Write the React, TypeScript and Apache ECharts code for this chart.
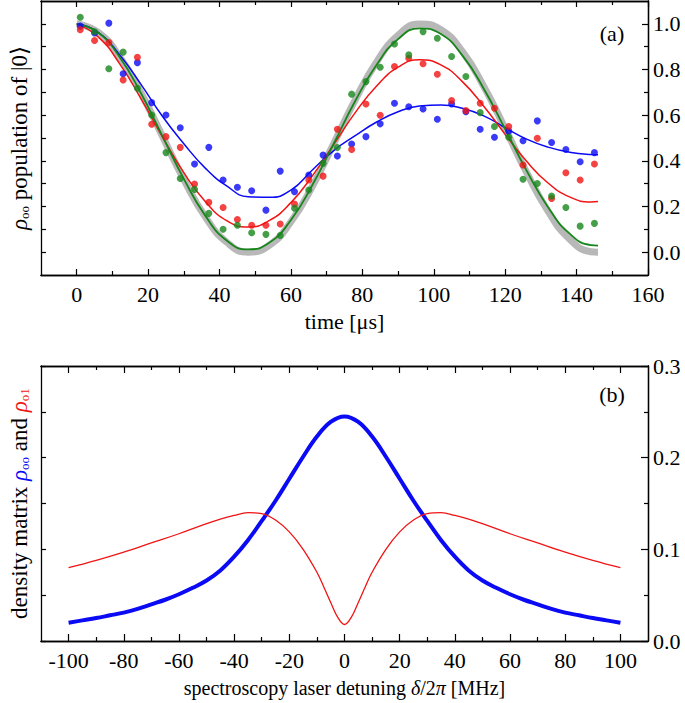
import React, { useEffect, useRef } from "react";
import * as echarts from "echarts";

// ---------- panel (a): measured populations ----------
const TIME = [1, 5, 9, 13, 17, 21, 25, 29, 33, 37, 41, 45, 49, 53, 57, 61, 65, 69, 73, 77, 81, 85, 89, 93, 97, 101, 105, 109, 113, 117, 121, 125, 129, 133, 137, 141, 145];
const BLUE_PTS = [0.99, 0.96, 1.003, 0.781, 0.83, 0.655, 0.601, 0.545, 0.386, 0.459, 0.316, 0.284, 0.269, 0.184, 0.355, 0.265, 0.338, 0.425, 0.421, 0.474, 0.506, 0.562, 0.652, 0.637, 0.627, 0.582, 0.649, 0.615, 0.538, 0.503, 0.53, 0.488, 0.575, 0.48, 0.45, 0.396, 0.436];
const RED_PTS = [0.974, 0.927, 0.918, 0.754, 0.854, 0.56, 0.506, 0.459, 0.298, 0.218, 0.196, 0.143, 0.118, 0.118, 0.123, 0.211, 0.316, 0.333, 0.538, 0.45, 0.649, 0.6, 0.813, 0.849, 0.825, 0.779, 0.664, 0.62, 0.652, 0.63, 0.55, 0.382, 0.499, 0.235, 0.348, 0.316, 0.386];
const GREEN_PTS = [1.029, 0.965, 0.803, 0.876, 0.718, 0.601, 0.436, 0.323, 0.275, 0.17, 0.1, 0.118, 0.085, 0.078, 0.073, 0.192, 0.272, 0.389, 0.458, 0.692, 0.747, 0.81, 0.912, 0.864, 0.966, 0.937, 0.857, 0.769, 0.611, 0.55, 0.503, 0.319, 0.301, 0.246, 0.196, 0.114, 0.126];

// fitted / theory curves
const FIT_T = [0, 6, 12, 18, 24, 30, 36, 42, 48, 54, 60, 66, 72, 78, 84, 90, 96, 102, 108, 114, 120, 126, 132, 138, 144, 146];
const GRAY_FIT = [1.0, 0.963, 0.856, 0.697, 0.508, 0.318, 0.155, 0.044, 0.0, 0.031, 0.133, 0.288, 0.476, 0.667, 0.833, 0.949, 0.999, 0.974, 0.879, 0.726, 0.541, 0.349, 0.18, 0.058, 0.002, 0.0];
const GREEN_FIT = [1.0, 0.962, 0.855, 0.696, 0.508, 0.321, 0.16, 0.051, 0.012, 0.042, 0.141, 0.294, 0.476, 0.662, 0.821, 0.933, 0.98, 0.955, 0.862, 0.716, 0.539, 0.357, 0.197, 0.082, 0.031, 0.029];
const RED_FIT = [1.0, 0.943, 0.826, 0.672, 0.505, 0.348, 0.222, 0.138, 0.11, 0.139, 0.217, 0.334, 0.472, 0.611, 0.728, 0.81, 0.843, 0.82, 0.747, 0.639, 0.516, 0.398, 0.303, 0.242, 0.22, 0.222];
const BLUE_FIT = [1.0, 0.963, 0.865, 0.735, 0.595, 0.475, 0.368, 0.29, 0.243, 0.24, 0.272, 0.36, 0.445, 0.51, 0.57, 0.615, 0.64, 0.645, 0.63, 0.597, 0.545, 0.495, 0.46, 0.438, 0.428, 0.427];

// ---------- panel (b): density matrix vs detuning ----------
const DETUNING = [-100, -95, -90, -85, -80, -75, -70, -65, -60, -55, -50, -45, -40, -35, -30, -25, -20, -15, -10, -5, 0, 5, 10, 15, 20, 25, 30, 35, 40, 45, 50, 55, 60, 65, 70, 75, 80, 85, 90, 95, 100];
const RHO00 = [0.02, 0.0225, 0.025, 0.028, 0.031, 0.035, 0.04, 0.045, 0.051, 0.058, 0.066, 0.077, 0.092, 0.11, 0.131, 0.153, 0.177, 0.201, 0.223, 0.239, 0.245, 0.239, 0.223, 0.201, 0.177, 0.153, 0.131, 0.11, 0.092, 0.077, 0.066, 0.058, 0.051, 0.045, 0.04, 0.035, 0.031, 0.028, 0.025, 0.0225, 0.02];
const DETUNING_01 = [-100, -90, -80, -70, -60, -50, -45, -40, -35, -30, -25, -20, -15, -10, -7.5, -5, -2.5, 0, 2.5, 5, 7.5, 10, 15, 20, 25, 30, 35, 40, 45, 50, 60, 70, 80, 90, 100];
const RHO01 = [0.08, 0.088, 0.097, 0.107, 0.117, 0.128, 0.133, 0.137, 0.14, 0.139, 0.132, 0.119, 0.1, 0.075, 0.059, 0.042, 0.026, 0.018, 0.026, 0.042, 0.059, 0.075, 0.1, 0.119, 0.132, 0.139, 0.14, 0.137, 0.133, 0.128, 0.117, 0.107, 0.097, 0.088, 0.08];

// ---------- ticks ----------
const X_TOP_MAJOR = [0, 20, 40, 60, 80, 100, 120, 140, 160];
const X_TOP_MINOR = [10, 30, 50, 70, 90, 110, 130, 150];
const Y_TOP_MAJOR = [0.0, 0.2, 0.4, 0.6, 0.8, 1.0];
const Y_TOP_MINOR = [0.1, 0.3, 0.5, 0.7, 0.9];
const X_BOT_MAJOR = [-100, -80, -60, -40, -20, 0, 20, 40, 60, 80, 100];
const X_BOT_MINOR = [-90, -70, -50, -30, -10, 10, 30, 50, 70, 90];
const Y_BOT_MAJOR = [0.0, 0.1, 0.2, 0.3];
const Y_BOT_MINOR = [0.05, 0.15, 0.25];

const FONT = "'Liberation Serif', 'DejaVu Serif', serif";
const C_BLUE = "#0a0af5";
const C_RED = "#f01414";
const C_GREEN = "#17861a";

function axis(kind: "x" | "y", grid: number, position: string, min: number, max: number, ticks: number[], len: number, labels: boolean, labelFmt?: (v: number) => string, extra: any = {}) {
  return {
    type: "value",
    gridIndex: grid,
    position,
    min,
    max,
    axisLine: { show: true, onZero: false, lineStyle: { color: "#000", width: 1.3 } },
    axisTick: { show: true, inside: true, length: len, customValues: ticks, lineStyle: { color: "#000", width: 1.2 } },
    axisLabel: {
      show: labels,
      customValues: ticks,
      color: "#000",
      fontFamily: FONT,
      fontSize: 22,
      margin: kind === "x" ? 8 : 5,
      formatter: labelFmt,
    },
    splitLine: { show: false },
    ...extra,
  };
}

export default function App() {
  const ref = useRef<HTMLDivElement>(null);
  useEffect(() => {
    if (!ref.current) return;
    const chart = echarts.init(ref.current, undefined, { renderer: "svg" });
    const f1 = (v: number) => v.toFixed(1);
    const fi = (v: number) => String(Math.round(v));
    const nameStyle = { color: "#000", fontFamily: FONT, fontSize: 21 };
    const yNameStyle = { color: "#000", fontFamily: FONT, fontSize: 23 };
    const sub = { fontSize: 13, verticalAlign: "bottom", fontFamily: FONT };
    const option: any = {
      animation: false,
      backgroundColor: "#fff",
      grid: [
        { left: 41, right: 37, top: 1, height: 274 },
        { left: 41, right: 37, top: 366, height: 275 },
      ],
      xAxis: [
        axis("x", 0, "bottom", -10, 160, X_TOP_MAJOR, 6, true, fi, {
          name: "time [μs]",
          nameLocation: "middle",
          nameGap: 35,
          nameTextStyle: { ...nameStyle, fontSize: 22 },
        }),
        axis("x", 0, "bottom", -10, 160, X_TOP_MINOR, 4, false),
        axis("x", 0, "top", -10, 160, X_TOP_MAJOR, 6, false),
        axis("x", 0, "top", -10, 160, X_TOP_MINOR, 4, false),
        axis("x", 1, "bottom", -110, 110, X_BOT_MAJOR, 7, true, fi, {
          name: "spectroscopy laser detuning {i|δ}/2{i|π} [MHz]",
          nameLocation: "middle",
          nameGap: 37,
          nameTextStyle: { ...nameStyle, fontSize: 20, rich: { i: { fontStyle: "italic", fontFamily: FONT, fontSize: 20 } } },
        }),
        axis("x", 1, "bottom", -110, 110, X_BOT_MINOR, 4, false),
        axis("x", 1, "top", -110, 110, X_BOT_MAJOR, 7, false),
        axis("x", 1, "top", -110, 110, X_BOT_MINOR, 4, false),
      ],
      yAxis: [
        axis("y", 0, "left", -0.1, 1.1, [...Y_TOP_MAJOR, ...Y_TOP_MINOR], 5, false, undefined, {
          name: "{r|ρ}{s|oo} population of |0⟩",
          nameLocation: "middle",
          nameRotate: 90,
          nameGap: 10,
          nameTextStyle: {
            ...yNameStyle,
            rich: { r: { fontStyle: "italic", fontFamily: FONT, fontSize: 23 }, s: sub },
          },
        }),
        axis("y", 0, "right", -0.1, 1.1, Y_TOP_MAJOR, 6, true, f1),
        axis("y", 0, "right", -0.1, 1.1, Y_TOP_MINOR, 4, false),
        axis("y", 1, "left", 0, 0.3, [...Y_BOT_MAJOR, ...Y_BOT_MINOR], 5, false, undefined, {
          name: "density matrix {b|ρ}{bs|oo} and {r|ρ}{rs|o1}",
          nameLocation: "middle",
          nameRotate: 90,
          nameGap: 10,
          nameTextStyle: {
            ...yNameStyle,
            rich: {
              b: { fontStyle: "italic", color: C_BLUE, fontFamily: FONT, fontSize: 23 },
              bs: { ...sub, color: C_BLUE },
              r: { fontStyle: "italic", color: C_RED, fontFamily: FONT, fontSize: 23 },
              rs: { ...sub, color: C_RED },
            },
          },
        }),
        axis("y", 1, "right", 0, 0.3, Y_BOT_MAJOR, 7, true, f1),
        axis("y", 1, "right", 0, 0.3, Y_BOT_MINOR, 4, false),
      ],
      graphic: [
        { type: "text", x: 612, y: 33, style: { text: "(a)", font: `22px ${FONT}`, fill: "#000", textAlign: "center", textVerticalAlign: "middle" } },
        { type: "text", x: 612, y: 394, style: { text: "(b)", font: `22px ${FONT}`, fill: "#000", textAlign: "center", textVerticalAlign: "middle" } },
      ],
      series: [
        {
          type: "line", xAxisIndex: 0, yAxisIndex: 1, smooth: true, showSymbol: false, z: 1,
          data: FIT_T.map((t, i) => [t, GRAY_FIT[i]]),
          lineStyle: { color: "rgba(125,125,125,0.55)", width: 7 },
        },
        {
          type: "line", xAxisIndex: 0, yAxisIndex: 1, smooth: true, showSymbol: false, z: 2,
          data: FIT_T.map((t, i) => [t, BLUE_FIT[i]]),
          lineStyle: { color: C_BLUE, width: 1.5 },
        },
        {
          type: "line", xAxisIndex: 0, yAxisIndex: 1, smooth: true, showSymbol: false, z: 2,
          data: FIT_T.map((t, i) => [t, RED_FIT[i]]),
          lineStyle: { color: C_RED, width: 1.5 },
        },
        {
          type: "line", xAxisIndex: 0, yAxisIndex: 1, smooth: true, showSymbol: false, z: 2,
          data: FIT_T.map((t, i) => [t, GREEN_FIT[i]]),
          lineStyle: { color: C_GREEN, width: 1.8 },
        },
        {
          type: "scatter", xAxisIndex: 0, yAxisIndex: 1, symbolSize: 7, z: 3,
          data: TIME.map((t, i) => [t, BLUE_PTS[i]]),
          itemStyle: { color: C_BLUE },
        },
        {
          type: "scatter", xAxisIndex: 0, yAxisIndex: 1, symbolSize: 7, z: 3,
          data: TIME.map((t, i) => [t, RED_PTS[i]]),
          itemStyle: { color: C_RED },
        },
        {
          type: "scatter", xAxisIndex: 0, yAxisIndex: 1, symbolSize: 7, z: 3,
          data: TIME.map((t, i) => [t, GREEN_PTS[i]]),
          itemStyle: { color: C_GREEN },
        },
        {
          type: "line", xAxisIndex: 4, yAxisIndex: 4, smooth: 0.4, showSymbol: false,
          data: DETUNING.map((d, i) => [d, RHO00[i]]),
          lineStyle: { color: C_BLUE, width: 4 },
        },
        {
          type: "line", xAxisIndex: 4, yAxisIndex: 4, smooth: 0.4, showSymbol: false,
          data: DETUNING_01.map((d, i) => [d, RHO01[i]]),
          lineStyle: { color: C_RED, width: 1.3 },
        },
      ],
    };
    chart.setOption(option);
    return () => chart.dispose();
  }, []);
  return <div ref={ref} style={{ position: "absolute", left: 0, top: 0, width: 685, height: 703 }} />;
}
